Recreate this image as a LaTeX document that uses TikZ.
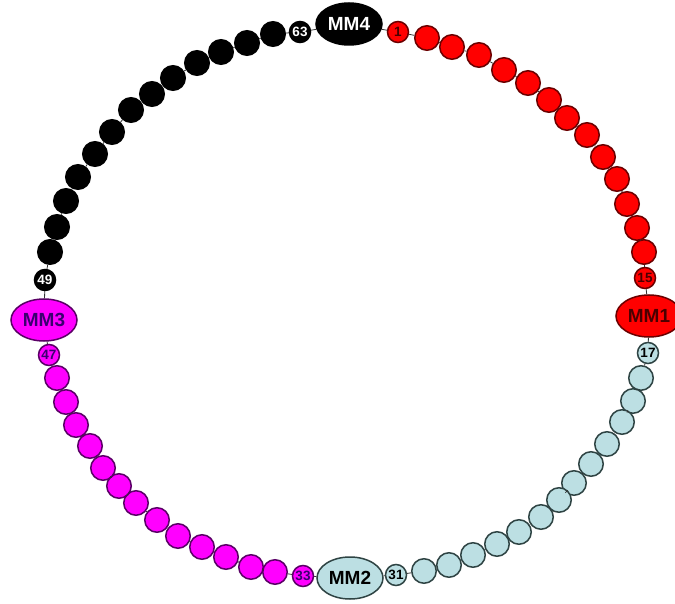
\documentclass[tikz,border=0pt]{standalone}
\usepackage{fontspec}
\setmainfont{Liberation Sans}
\usetikzlibrary{shapes.geometric}
\definecolor{redfill}{HTML}{FF0000}
\definecolor{redline}{HTML}{6B0000}
\definecolor{redtext}{HTML}{4A0000}
\definecolor{bluefill}{HTML}{BCDFE3}
\definecolor{blueline}{HTML}{2F4444}
\definecolor{magfill}{HTML}{FF00FF}
\definecolor{magline}{HTML}{5A0066}
\definecolor{magtext}{HTML}{3A0070}
\tikzset{
  bead/.style={circle, draw, line width=1.5pt, minimum size=24.5pt, inner sep=0pt},
  lbead/.style={bead, minimum size=21pt, font=\fontsize{13.5}{13.5}\selectfont\bfseries},
  mm/.style={ellipse, draw, line width=1.5pt, minimum width=66pt, minimum height=42pt, inner sep=0pt, font=\fontsize{19}{19}\selectfont\bfseries},
  redc/.style={fill=redfill, draw=redline, text=redtext},
  bluec/.style={fill=bluefill, draw=blueline, text=black},
  magc/.style={fill=magfill, draw=magline, text=magtext},
  blackc/.style={fill=black, draw=black, text=white},
  backbone/.style={draw=black!80, line width=0.8pt}
}
\begin{document}
\begin{tikzpicture}[x=1pt, y=-1pt]
\useasboundingbox[fill=white] (0,0) rectangle (675,604);
% MM nodes
\node[mm, blackc] (n0) at (349,24) {MM4};
\node[mm, redc] (n16) at (649,316) {MM1};
\node[mm, bluec] (n32) at (350,578) {MM2};
\node[mm, magc] (n48) at (44,320) {MM3};
% labelled beads
\node[lbead, redc] (n1) at (398,32) {1};
\node[lbead, redc] (n15) at (645,278) {15};
\node[lbead, bluec] (n17) at (648,353) {17};
\node[lbead, bluec] (n31) at (396,575) {31};
\node[lbead, magc] (n33) at (303,576) {33};
\node[lbead, magc] (n47) at (49,355) {47};
\node[lbead, blackc] (n49) at (45,280) {49};
\node[lbead, blackc] (n63) at (300,32) {63};
% red beads
\foreach \n/\x/\y in {2/427/38, 3/452/47, 4/479/55, 5/504/70, 6/528/83, 7/549/100, 8/567/118, 9/587/135, 10/603/157, 11/617/179, 12/627/204, 13/637/228, 14/644/252}
  \node[bead, redc] (n\n) at (\x,\y) {};
% blue beads
\foreach \n/\x/\y in {18/641/378, 19/633/401, 20/622/422, 21/607/444, 22/591/464, 23/574/483, 24/559/500, 25/541/517, 26/519/532, 27/497/544, 28/473/555, 29/449/565, 30/424/571}
  \node[bead, bluec] (n\n) at (\x,\y) {};
% magenta beads
\foreach \n/\x/\y in {34/275/572, 35/251/567, 36/226/557, 37/202/547, 38/178/536, 39/157/520, 40/136/503, 41/119/486, 42/103/468, 43/90/446, 44/76/425, 45/66/402, 46/57/378}
  \node[bead, magc] (n\n) at (\x,\y) {};
% black beads
\foreach \n/\x/\y in {50/50/252, 51/57/227, 52/66/201, 53/78/177, 54/95/154, 55/112/132, 56/131/110, 57/152/94, 58/173/78, 59/197/63, 60/221/52, 61/247/43, 62/273/34}
  \node[bead, blackc] (n\n) at (\x,\y) {};
% backbone connectors
\foreach \i in {0,...,63} {
  \pgfmathtruncatemacro\j{mod(\i+1,64)}
  \draw[backbone] (n\i) -- (n\j);
}
\end{tikzpicture}
\end{document}
